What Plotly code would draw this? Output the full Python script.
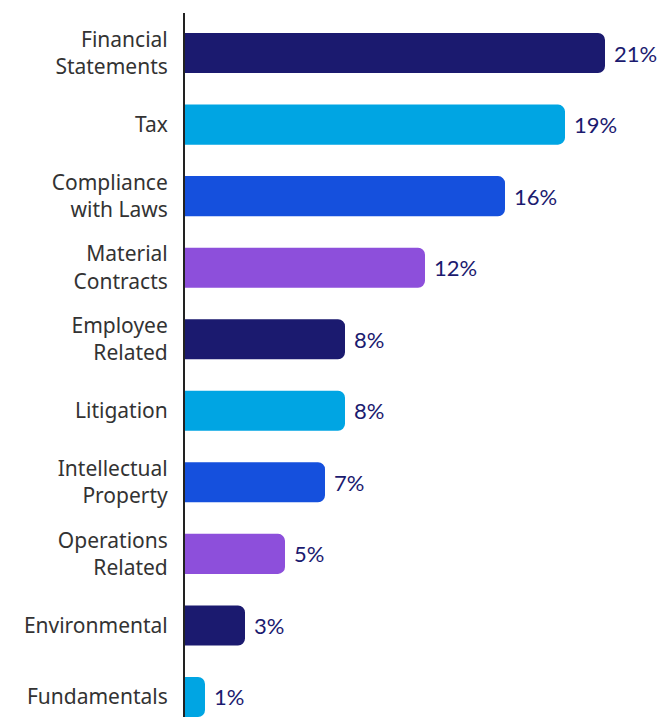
import plotly.graph_objects as go

categories = ["Financial<br>Statements", "Tax", "Compliance<br>with Laws", "Material<br>Contracts",
              "Employee<br>Related", "Litigation", "Intellectual<br>Property", "Operations<br>Related",
              "Environmental", "Fundamentals"]
values = [21, 19, 16, 12, 8, 8, 7, 5, 3, 1]
value_labels = ["21%", "19%", "16%", "12%", "8%", "8%", "7%", "5%", "3%", "1%"]
palette = ["#1b1a6f", "#00a5e3", "#1550dd", "#8d4fdb"]
colors = [palette[i % 4] for i in range(len(values))]

fig = go.Figure(go.Bar(
    x=values, y=categories, orientation="h",
    marker=dict(color=colors, line=dict(width=0)),
    width=0.56, hoverinfo="skip",
))

for c, v, t in zip(categories, values, value_labels):
    fig.add_annotation(x=v, y=c, text=t, showarrow=False, xanchor="left", xshift=7,
                       font=dict(family="Lato, sans-serif", size=22, color="#1b1a6f"))

fig.update_layout(
    width=672, height=717,
    margin=dict(l=185, r=0, t=13, b=0),
    paper_bgcolor="white", plot_bgcolor="white",
    barcornerradius=7,
    showlegend=False,
    xaxis=dict(range=[0, 24.35], visible=False, fixedrange=True),
    yaxis=dict(range=[9.28, -0.56], showline=True, linecolor="#222222", linewidth=2,
               showgrid=False, zeroline=False, ticks="", ticklabelstandoff=11,
               tickfont=dict(family="Noto Sans, sans-serif", size=21, color="#333333")),
)

fig.write_html("out.html")
